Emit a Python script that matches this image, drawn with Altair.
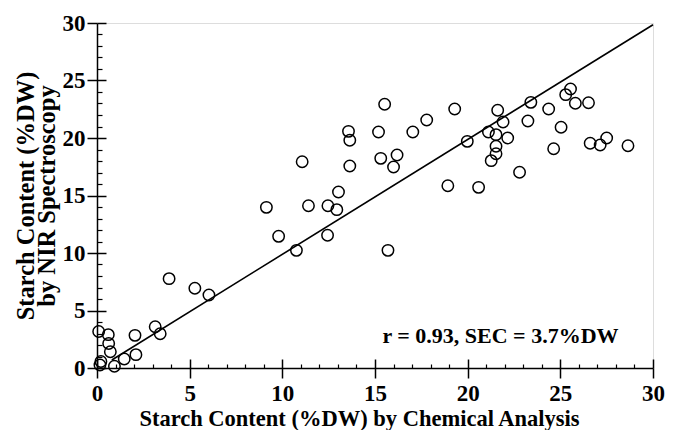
import altair as alt
import pandas as pd

# Starch content: chemical analysis (x) vs NIR spectroscopy (y), %DW
chem = [0.09, 0.61, 0.63, 0.72, 0.21, 0.16, 0.94, 1.47, 2.10, 2.05, 3.14, 3.41, 3.89, 5.28, 6.04,
        15.52, 19.30, 17.79, 13.57, 13.64, 15.19, 17.04, 11.07, 13.64, 15.31, 16.19, 16.00, 18.93,
        13.03, 9.14, 9.80, 11.41, 12.46, 12.94, 12.44, 10.76, 15.70,
        25.55, 25.29, 25.81, 26.52, 23.41, 24.37, 21.62, 21.91, 23.25, 25.04, 21.12, 21.53, 19.98,
        22.16, 21.53, 21.53, 21.27, 24.64, 26.61, 27.15, 27.50, 28.65, 22.80, 20.59]
nir = [3.17, 2.90, 2.13, 1.41, 0.57, 0.26, 0.15, 0.78, 1.16, 2.84, 3.59, 2.98, 7.77, 6.93, 6.35,
       22.93, 22.52, 21.57, 20.58, 19.80, 20.52, 20.52, 17.94, 17.57, 18.23, 18.52, 17.48, 15.85,
       15.30, 13.97, 11.45, 14.11, 14.11, 13.77, 11.54, 10.23, 10.23,
       24.26, 23.77, 23.02, 23.07, 23.10, 22.52, 22.41, 21.39, 21.48, 20.93, 20.52, 20.29, 19.71,
       20.00, 19.28, 18.63, 18.03, 19.07, 19.54, 19.39, 20.00, 19.33, 17.02, 15.71]

fit_x = [0.8, 30.0]
fit_y = [0.7, 29.85]

major_ticks = [0, 5, 10, 15, 20, 25, 30]
minor_ticks = [1, 2, 3, 4, 6, 7, 8, 9, 11, 12, 13, 14, 16, 17, 18, 19,
               21, 22, 23, 24, 26, 27, 28, 29]

annotation = ["r = 0.93, SEC = 3.7%DW"]
ann_x = [15.4]
ann_y = [2.8]

x_title = "Starch Content (%DW) by Chemical Analysis"
y_title = ["Starch Content (%DW)", "by NIR Spectroscopy"]

FONT = "Liberation Serif"

pts = pd.DataFrame({"chem": chem, "nir": nir})
fit = pd.DataFrame({"chem": fit_x, "nir": fit_y})
ann = pd.DataFrame({"chem": ann_x, "nir": ann_y, "label": annotation})

xs = alt.Scale(domain=[0, 30], nice=False, zero=False)
ys = alt.Scale(domain=[0, 30], nice=False, zero=False)

x_main = alt.Axis(orient="bottom", values=major_ticks, tickSize=10, tickWidth=1.5,
                  tickColor="black", domainColor="black", domainWidth=1.5,
                  labelFont=FONT, labelFontSize=23, labelFontWeight="bold",
                  labelColor="black", labelPadding=4, labelFlush=False,
                  labelOverlap=False, grid=False,
                  title=x_title, titleFont=FONT, titleFontSize=22.5,
                  titleFontWeight="bold", titleColor="black", titlePadding=2,
                  titleX=262, titleAlign="center")
y_main = alt.Axis(orient="left", values=major_ticks, tickSize=10, tickWidth=1.5,
                  tickColor="black", domainColor="black", domainWidth=1.5,
                  labelFont=FONT, labelFontSize=23, labelFontWeight="bold",
                  labelColor="black", labelPadding=2, labelFlush=False,
                  labelOverlap=False, grid=False,
                  title=y_title, titleFont=FONT, titleFontSize=24.5,
                  titleFontWeight="bold", titleColor="black", titlePadding=3,
                  titleLineHeight=21)

x_in_major = alt.Axis(orient="bottom", values=major_ticks, tickSize=9, tickWidth=1.5,
                      tickColor="black", offset=-9, domain=False, labels=False,
                      grid=False, title=None)
y_in_major = alt.Axis(orient="left", values=major_ticks, tickSize=9, tickWidth=1.5,
                      tickColor="black", offset=-9, domain=False, labels=False,
                      grid=False, title=None)
x_in_minor = alt.Axis(orient="bottom", values=minor_ticks, tickSize=4, tickWidth=1.2,
                      tickColor="black", offset=-4, domain=False, labels=False,
                      grid=False, title=None)
y_in_minor = alt.Axis(orient="left", values=minor_ticks, tickSize=5, tickWidth=1.2,
                      tickColor="black", offset=-5, domain=False, labels=False,
                      grid=False, title=None)

points = alt.Chart(pts).mark_point(shape="circle", filled=False, color="black",
                                   strokeWidth=1.5, size=130, opacity=1).encode(
    x=alt.X("chem:Q", scale=xs, axis=x_main),
    y=alt.Y("nir:Q", scale=ys, axis=y_main),
)

ticks_major = alt.Chart(pts).mark_point(opacity=0).encode(
    x=alt.X("chem:Q", scale=xs, axis=x_in_major),
    y=alt.Y("nir:Q", scale=ys, axis=y_in_major),
)
ticks_minor = alt.Chart(pts).mark_point(opacity=0).encode(
    x=alt.X("chem:Q", scale=xs, axis=x_in_minor),
    y=alt.Y("nir:Q", scale=ys, axis=y_in_minor),
)

line = alt.Chart(fit).mark_line(color="black", strokeWidth=1.6).encode(
    x=alt.X("chem:Q", scale=xs, axis=None),
    y=alt.Y("nir:Q", scale=ys, axis=None),
)

text = alt.Chart(ann).mark_text(align="left", baseline="middle", font=FONT,
                                fontSize=22, fontWeight="bold", color="black").encode(
    x=alt.X("chem:Q", scale=xs, axis=None),
    y=alt.Y("nir:Q", scale=ys, axis=None),
    text="label:N",
)

chart = alt.layer(points, ticks_major, ticks_minor, line, text).resolve_axis(
    x="independent", y="independent"
).properties(
    width=556, height=345,
    autosize=alt.AutoSizeParams(type="none"),
    padding={"left": 89, "top": 15, "right": 12, "bottom": 62},
).configure_view(stroke=None).configure(background="white")

chart.save("out.html", embed_options={"renderer": "svg", "actions": False})
